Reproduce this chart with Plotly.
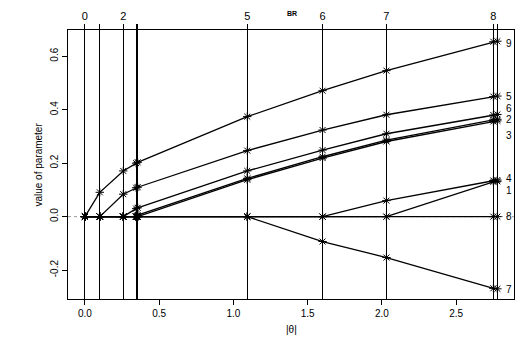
import plotly.graph_objects as go

# LARS-type coefficient path: step positions along |theta|
steps = [0.0, 0.100, 0.258, 0.345, 0.355, 1.093, 1.600, 2.030, 2.750, 2.777]
top_labels = ["0", "", "2", "", "", "5", "6", "7", "8", ""]

var_names = ["1", "2", "3", "4", "5", "6", "7", "8", "9"]
coef_1 = [0, 0, 0, 0, 0, 0, 0, 0.000, 0.130, 0.132]
coef_2 = [0, 0, 0, 0, 0.006, 0.143, 0.224, 0.286, 0.362, 0.364]
coef_3 = [0, 0, 0, 0, 0.000, 0.138, 0.219, 0.281, 0.356, 0.358]
coef_4 = [0, 0, 0, 0, 0, 0, 0.000, 0.060, 0.135, 0.137]
coef_5 = [0, 0, 0.084, 0.108, 0.110, 0.247, 0.324, 0.381, 0.449, 0.451]
coef_6 = [0, 0, 0, 0.030, 0.033, 0.171, 0.249, 0.310, 0.380, 0.382]
coef_7 = [0, 0, 0, 0, 0, 0.000, -0.093, -0.153, -0.268, -0.270]
coef_8 = [0, 0, 0, 0, 0, 0, 0, 0, 0, 0]
coef_9 = [0, 0.091, 0.171, 0.200, 0.203, 0.374, 0.471, 0.546, 0.654, 0.656]
coefs = [coef_1, coef_2, coef_3, coef_4, coef_5, coef_6, coef_7, coef_8, coef_9]

x_ticks = [0.0, 0.5, 1.0, 1.5, 2.0, 2.5]
x_ticktext = ["0.0", "0.5", "1.0", "1.5", "2.0", "2.5"]
y_ticks = [-0.2, 0.0, 0.2, 0.4, 0.6]
y_ticktext = ["-0.2", "0.0", "0.2", "0.4", "0.6"]

# right-side label positions (spread so they do not overlap)
label_order = ["9", "5", "6", "2", "3", "4", "1", "8", "7"]
label_y = [0.649, 0.451, 0.406, 0.365, 0.305, 0.141, 0.099, 0.0, -0.274]

XR = [-0.114, 2.889]
YR = [-0.308, 0.698]
FONT = "Liberation Sans, Arial, Helvetica, sans-serif"

fig = go.Figure()

# dotted zero reference line
fig.add_trace(go.Scatter(x=XR, y=[0, 0], mode="lines",
                         line=dict(color="#999999", width=1, dash="dot"),
                         showlegend=False, hoverinfo="skip"))

for name, c in zip(var_names, coefs):
    fig.add_trace(go.Scatter(
        x=steps, y=c, mode="lines+markers", name=name,
        line=dict(color="black", width=1.3),
        marker=dict(symbol="asterisk-open", size=7,
                    line=dict(width=1, color="black"), color="black"),
        showlegend=False))

# invisible trace to activate the top axis
fig.add_trace(go.Scatter(x=[steps[0]], y=[0], xaxis="x2", mode="markers",
                         opacity=0, showlegend=False, hoverinfo="skip"))

for lab, ly in zip(label_order, label_y):
    fig.add_annotation(x=2.855, y=ly, xref="x", yref="y", text=lab,
                       showarrow=False, font=dict(size=10, color="black", family=FONT),
                       xanchor="center", yanchor="middle")

fig.add_annotation(x=0.5016, y=1.063, xref="paper", yref="paper", text="<b>BR</b>",
                   showarrow=False, font=dict(size=7, color="black", family=FONT),
                   xanchor="center", yanchor="middle")
fig.add_annotation(x=-0.067, y=0.5, xref="paper", yref="paper",
                   text="value of parameter", textangle=-90, showarrow=False,
                   font=dict(size=10, color="black", family=FONT),
                   xanchor="center", yanchor="middle")
fig.add_annotation(x=0.5, y=-0.112, xref="paper", yref="paper", text="|θ|",
                   showarrow=False, font=dict(size=10, color="black", family=FONT),
                   xanchor="center", yanchor="middle")

fig.update_layout(
    width=522, height=337,
    margin=dict(l=68, r=8, t=30, b=38),
    paper_bgcolor="white", plot_bgcolor="white",
    font=dict(family=FONT, color="black"),
    xaxis=dict(range=XR, tickmode="array", tickvals=x_ticks, ticktext=x_ticktext,
               ticks="outside", ticklen=5, tickcolor="black", showline=True,
               linecolor="black", linewidth=1, mirror=True, showgrid=False,
               zeroline=False, tickfont=dict(size=10)),
    xaxis2=dict(range=XR, overlaying="x", side="top", tickmode="array",
                tickvals=steps, ticktext=top_labels, ticks="outside", ticklen=5,
                tickcolor="black", showline=False, showgrid=True,
                gridcolor="black", gridwidth=1, zeroline=False,
                tickfont=dict(size=11)),
    yaxis=dict(range=YR, tickmode="array", tickvals=y_ticks, ticktext=y_ticktext,
               ticks="outside", ticklen=5, tickcolor="black", showline=True,
               linecolor="black", linewidth=1, mirror=True, showgrid=False,
               zeroline=False, tickangle=-90, tickfont=dict(size=10)),
)

fig.write_html("out.html")
